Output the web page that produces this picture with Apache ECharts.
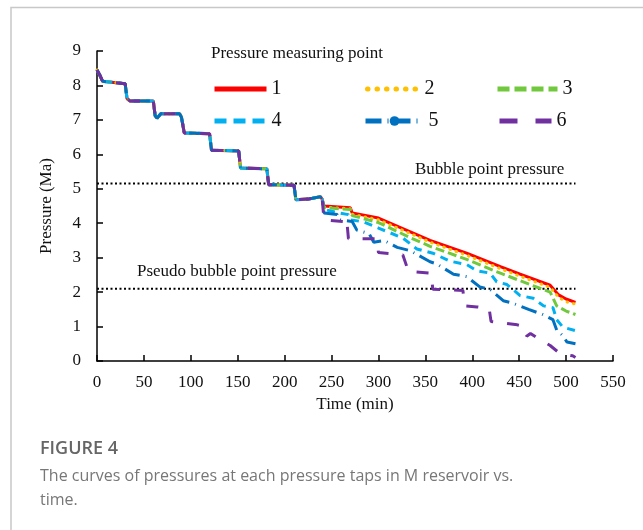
<!DOCTYPE html>
<html>
<head>
<meta charset="utf-8">
<script src="https://cdn.jsdelivr.net/npm/echarts@6/dist/echarts.min.js"></script>
<style>
  html, body { margin: 0; padding: 0; background: #fff; }
  #chart { width: 643px; height: 530px; }
</style>
</head>
<body>
<div id="chart"></div>
<script>
// shared staircase part, identical for all taps (t in min, p in MPa)
const stairTime = [0, 3, 6, 30, 32, 35, 60, 62, 64, 68, 88, 90, 93, 120, 122, 151, 153, 181, 183, 210, 212, 225, 238, 240];
const stairPres = [8.45, 8.3, 8.12, 8.05, 7.62, 7.55, 7.55, 7.12, 7.05, 7.18, 7.18, 7.08, 6.62, 6.6, 6.12, 6.1, 5.6, 5.58, 5.12, 5.1, 4.68, 4.7, 4.77, 4.7];

// tails after 240 min for each pressure tap
const tail1 = [[242, 4.5], [270, 4.45], [272, 4.3], [300, 4.15], [334, 3.75], [355, 3.5], [394, 3.13], [430, 2.74], [451, 2.52], [483, 2.2], [492, 1.92], [500, 1.8], [510, 1.7]];
const tail2 = [[242, 4.47], [270, 4.42], [272, 4.26], [300, 4.1], [334, 3.7], [355, 3.45], [394, 3.07], [430, 2.68], [451, 2.46], [483, 2.14], [492, 1.85], [500, 1.72], [510, 1.65]];
const tail3 = [[242, 4.45], [270, 4.4], [272, 4.22], [300, 4.02], [334, 3.58], [355, 3.33], [394, 2.95], [430, 2.55], [451, 2.33], [483, 2.0], [490, 1.6], [500, 1.45], [510, 1.35]];
const tail4 = [[242, 4.4], [258, 4.3], [268, 4.25], [270, 4.1], [284, 4.04], [300, 3.86], [326, 3.57], [341, 3.25], [358, 3.13], [376, 2.9], [394, 2.8], [405, 2.62], [419, 2.55], [426, 2.3], [437, 2.22], [451, 1.9], [465, 1.82], [476, 1.6], [486, 1.55], [490, 1.2], [496, 1.0], [501, 0.95], [510, 0.88]];
const tail5 = [[242, 4.3], [256, 4.25], [258, 4.1], [272, 4.05], [277, 3.8], [290, 3.7], [295, 3.45], [306, 3.5], [320, 3.3], [334, 3.2], [355, 2.88], [362, 2.82], [380, 2.52], [394, 2.45], [408, 2.15], [419, 2.08], [433, 1.75], [443, 1.68], [460, 1.5], [475, 1.35], [486, 1.2], [490, 0.9], [496, 0.75], [501, 0.55], [510, 0.5]];
const tail6 = [[242, 4.1], [262, 4.05], [266, 4.15], [268, 3.55], [298, 3.55], [300, 3.15], [326, 3.08], [332, 2.6], [356, 2.55], [358, 2.08], [390, 2.05], [392, 1.6], [405, 1.57], [418, 1.52], [420, 1.15], [448, 1.05], [455, 1.0], [458, 0.72], [462, 0.8], [472, 0.62], [483, 0.45], [492, 0.25], [497, 0.2], [507, 0.15], [510, 0.1]];

const tapNames = ["1", "2", "3", "4", "5", "6"];
const tapColors = ["#FF0000", "#FFC000", "#70C83C", "#00B0F0", "#0070C0", "#7030A0"];
const tapDash = ["solid", [0.5, 6], [9, 4], [8, 6], [16, 6, 1, 6], [12, 14]];
const legendDash = ["solid", [0.5, 9], [12, 5], [12, 7], [16, 6, 1, 6], [18, 18]];
const tails = [tail1, tail2, tail3, tail4, tail5, tail6];

const bubbleP = 5.15;
const pseudoP = 2.1;
const refSpan = [0, 510];

const xTicks = { min: 0, max: 550, interval: 50 };
const yTicks = { min: 0, max: 9, interval: 1 };

const serif = '"Liberation Serif", "Times New Roman", serif';

let mychart = echarts.init(document.getElementById("chart"));

let tapSeries = tapNames.map((name, i) => {
  let pts = stairTime.map((t, k) => [t, stairPres[k]]).concat(tails[i]);
  return {
    name: name,
    type: "line",
    data: pts,
    symbol: i === 4 ? "circle" : "none",
    showSymbol: false,
    z: 3 + i,
    lineStyle: {
      color: tapColors[i],
      width: 3,
      type: tapDash[i],
      cap: i === 1 ? "round" : "butt",
    },
    itemStyle: { color: tapColors[i] },
  };
});

function refLine(name, p) {
  return {
    name: name,
    type: "line",
    symbol: "none",
    data: [[refSpan[0], p], [refSpan[1], p]],
    lineStyle: { color: "#000", width: 2, type: [2, 2.5] },
    z: 2,
  };
}

// one legend per item, so the 3x2 layout matches
const legendPos = [
  [207, 74], [360, 74], [490, 74],
  [207, 106], [358, 106], [492, 106],
];
let legends = tapNames.map((name, i) => ({
  data: [name],
  left: legendPos[i][0],
  top: legendPos[i][1],
  itemWidth: i === 2 ? 60 : i === 4 ? 58 : 52,
  itemHeight: 12,
  itemGap: 0,
  textStyle: { fontFamily: serif, fontSize: 20, color: "#111" },
  lineStyle: { width: 5, type: legendDash[i], cap: i === 1 ? "round" : "butt" },
  // only tap 5 keeps its dot in the legend
  itemStyle: i === 4 ? { color: tapColors[4], borderWidth: 0 } : { color: "rgba(0,0,0,0)", borderWidth: 0 },
  selectedMode: false,
}));

let option = {
  animation: false,
  backgroundColor: "#fff",
  title: {
    text: "Pressure measuring point",
    left: 206,
    top: 40,
    textStyle: { fontFamily: serif, fontSize: 17, fontWeight: "normal", color: "#111" },
  },
  legend: legends,
  grid: { left: 97, top: 51, right: 30, bottom: 169 },
  xAxis: {
    type: "value",
    min: xTicks.min,
    max: xTicks.max,
    interval: xTicks.interval,
    name: "Time (min)",
    nameLocation: "middle",
    nameGap: 33,
    nameTextStyle: { fontFamily: serif, fontSize: 17, color: "#111" },
    axisLine: { lineStyle: { color: "#000", width: 1.5 } },
    axisTick: { inside: true, length: 6, lineStyle: { color: "#000", width: 1.5 } },
    axisLabel: { fontFamily: serif, fontSize: 17, color: "#111", margin: 13 },
    splitLine: { show: false },
  },
  yAxis: {
    type: "value",
    min: yTicks.min,
    max: yTicks.max,
    interval: yTicks.interval,
    name: "Pressure (Ma)",
    nameLocation: "middle",
    nameGap: 42,
    nameTextStyle: { fontFamily: serif, fontSize: 17, color: "#111" },
    axisLine: { show: true, lineStyle: { color: "#000", width: 1.5 } },
    axisTick: { show: true, inside: true, length: 6, lineStyle: { color: "#000", width: 1.5 } },
    axisLabel: { fontFamily: serif, fontSize: 17, color: "#111", margin: 16 },
    splitLine: { show: false },
  },
  graphic: [
    {
      type: "rect",
      silent: true,
      shape: { x: 11, y: 7.5, width: 700, height: 600 },
      style: { fill: null, stroke: "#c8c8c8", lineWidth: 1.5 },
    },
    {
      type: "text",
      left: 415,
      top: 161,
      style: { text: "Bubble point pressure", font: "17px " + serif, fill: "#111" },
    },
    {
      type: "text",
      left: 137,
      top: 263,
      style: { text: "Pseudo bubble point pressure", font: "17px " + serif, fill: "#111" },
    },
    {
      type: "text",
      left: 40,
      top: 440,
      style: { text: "FIGURE 4", font: "600 18px 'Open Sans', sans-serif", fill: "#666" },
    },
    {
      type: "text",
      left: 40,
      top: 464,
      style: {
        text: "The curves of pressures at each pressure taps in M reservoir vs.\ntime.",
        font: "16px 'Open Sans', sans-serif",
        lineHeight: 24,
        fill: "#777",
      },
    },
  ],
  series: [refLine("Bubble point pressure", bubbleP), refLine("Pseudo bubble point pressure", pseudoP)].concat(tapSeries),
};
mychart.setOption(option);
</script>
</body>
</html>
